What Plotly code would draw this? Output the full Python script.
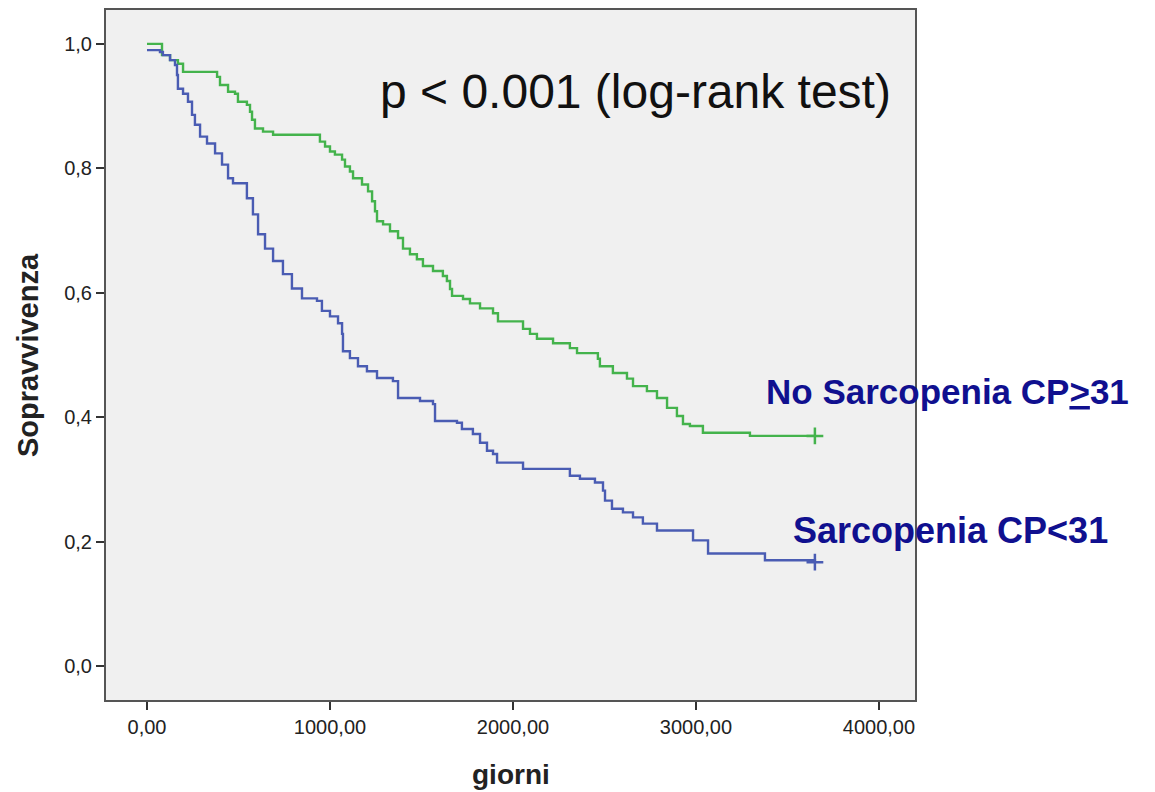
import plotly.graph_objects as go

# --- Data ---
green_t = [0, 82, 126, 169, 197, 383, 399, 443, 481, 497, 546, 563, 574, 590, 634, 689,
           945, 973, 1000, 1027, 1066, 1082, 1109, 1126, 1175, 1208, 1230, 1246, 1257, 1290,
           1328, 1372, 1399, 1437, 1475, 1508, 1563, 1617, 1639, 1656, 1667, 1727, 1765, 1820,
           1891, 1918, 2055, 2093, 2131, 2219, 2311, 2350, 2464, 2475, 2546, 2623, 2656, 2732,
           2787, 2842, 2896, 2929, 2967, 3038, 3295, 3650]
green_s = [1.0, 0.982, 0.974, 0.968, 0.955, 0.947, 0.934, 0.923, 0.920, 0.907, 0.902, 0.891,
           0.878, 0.864, 0.859, 0.854, 0.843, 0.835, 0.827, 0.822, 0.814, 0.803, 0.795, 0.784,
           0.774, 0.763, 0.747, 0.731, 0.715, 0.710, 0.699, 0.688, 0.671, 0.662, 0.654, 0.643,
           0.635, 0.627, 0.619, 0.606, 0.595, 0.590, 0.583, 0.575, 0.567, 0.554, 0.542, 0.534,
           0.526, 0.519, 0.511, 0.503, 0.494, 0.482, 0.471, 0.462, 0.450, 0.442, 0.431, 0.415,
           0.402, 0.389, 0.386, 0.375, 0.370, 0.370]

blue_t = [0, 71, 87, 126, 153, 164, 169, 197, 224, 246, 262, 290, 328, 372, 410, 443, 470,
          546, 579, 607, 645, 689, 743, 792, 847, 929, 956, 1000, 1044, 1066, 1071, 1109, 1153,
          1202, 1257, 1344, 1372, 1492, 1563, 1574, 1694, 1721, 1781, 1820, 1858, 1891, 1913,
          2055, 2311, 2366, 2448, 2492, 2503, 2541, 2601, 2656, 2710, 2787, 2984, 3066, 3377, 3650]
blue_s = [0.990, 0.987, 0.982, 0.974, 0.966, 0.950, 0.928, 0.920, 0.907, 0.886, 0.870, 0.851,
          0.840, 0.824, 0.806, 0.784, 0.776, 0.752, 0.726, 0.694, 0.671, 0.651, 0.630, 0.607,
          0.591, 0.587, 0.571, 0.562, 0.551, 0.534, 0.506, 0.495, 0.482, 0.474, 0.463, 0.458,
          0.431, 0.426, 0.421, 0.394, 0.391, 0.381, 0.373, 0.359, 0.346, 0.341, 0.327, 0.317,
          0.306, 0.301, 0.295, 0.282, 0.266, 0.253, 0.247, 0.239, 0.229, 0.218, 0.202, 0.181,
          0.170, 0.167]

x_ticks = [0, 1000, 2000, 3000, 4000]
x_tick_labels = ["0,00", "1000,00", "2000,00", "3000,00", "4000,00"]
y_ticks = [0.0, 0.2, 0.4, 0.6, 0.8, 1.0]
y_tick_labels = ["0,0", "0,2", "0,4", "0,6", "0,8", "1,0"]

green_color = "#44b34c"
blue_color = "#4a5cb3"
label_color = "#10108f"

fig = go.Figure()

fig.add_trace(go.Scatter(x=green_t, y=green_s, mode="lines", line=dict(color=green_color, width=2.4, shape="hv"),
                         showlegend=False, hoverinfo="skip"))
fig.add_trace(go.Scatter(x=blue_t, y=blue_s, mode="lines", line=dict(color=blue_color, width=2.4, shape="hv"),
                         showlegend=False, hoverinfo="skip"))
# censor markers at end
fig.add_trace(go.Scatter(x=[green_t[-1]], y=[green_s[-1]], mode="markers",
                         marker=dict(symbol="cross-thin", size=12, line=dict(color=green_color, width=2.5)),
                         showlegend=False, hoverinfo="skip"))
fig.add_trace(go.Scatter(x=[blue_t[-1]], y=[blue_s[-1]], mode="markers",
                         marker=dict(symbol="cross-thin", size=12, line=dict(color=blue_color, width=2.5)),
                         showlegend=False, hoverinfo="skip"))
# faint legend remnants right of the plot
fig.add_trace(go.Scatter(x=[4497, 4497], y=[0.944, 0.893], mode="markers",
                         marker=dict(size=3, color=[blue_color, green_color]),
                         showlegend=False, hoverinfo="skip", cliponaxis=False))

fig.add_annotation(x=2667, y=0.923, xref="x", yref="y", text="p &lt; 0.001 (log-rank test)",
                   showarrow=False, font=dict(family="Liberation Sans, Arial", size=48, color="#111111"),
                   xanchor="center", yanchor="middle")
fig.add_annotation(x=3370, y=0.442, xref="x", yref="y", text="<b>No Sarcopenia CP<u>&gt;</u>31</b>",
                   showarrow=False, font=dict(family="Liberation Sans, Arial", size=35, color=label_color),
                   xanchor="left", yanchor="middle")
fig.add_annotation(x=3520, y=0.218, xref="x", yref="y", text="<b>Sarcopenia CP&lt;31</b>",
                   showarrow=False, font=dict(family="Liberation Sans, Arial", size=36, color=label_color),
                   xanchor="left", yanchor="middle")
# axis titles
fig.add_annotation(x=0.5, y=-0.108, xref="paper", yref="paper", text="<b>giorni</b>", showarrow=False,
                   font=dict(family="Liberation Sans, Arial", size=28, color="#222222"),
                   xanchor="center", yanchor="middle")
fig.add_annotation(x=-0.0964, y=0.5, xref="paper", yref="paper", text="<b>Sopravvivenza</b>", showarrow=False,
                   textangle=-90, font=dict(family="Liberation Sans, Arial", size=29, color="#222222"),
                   xanchor="center", yanchor="middle")

fig.update_layout(
    width=1155, height=792,
    margin=dict(l=98, r=248, t=0, b=100),
    paper_bgcolor="white", plot_bgcolor="#f0f0f0",
    font=dict(family="Liberation Sans, Arial", color="#222222"),
)
fig.update_xaxes(range=[-224, 4197], tickvals=x_ticks, ticktext=x_tick_labels,
                 showgrid=False, zeroline=False, showline=True, mirror=True,
                 linecolor="#555555", linewidth=2, ticks="outside", ticklen=8, tickwidth=2,
                 tickcolor="#333333", tickfont=dict(size=20, color="#222222"))
fig.update_yaxes(range=[-0.0545, 1.0545], tickvals=y_ticks, ticktext=y_tick_labels,
                 showgrid=False, zeroline=False, showline=True, mirror=True,
                 linecolor="#555555", linewidth=2, ticks="outside", ticklen=8, tickwidth=2,
                 tickcolor="#333333", tickfont=dict(size=20, color="#222222"))

fig.write_html("out.html")
